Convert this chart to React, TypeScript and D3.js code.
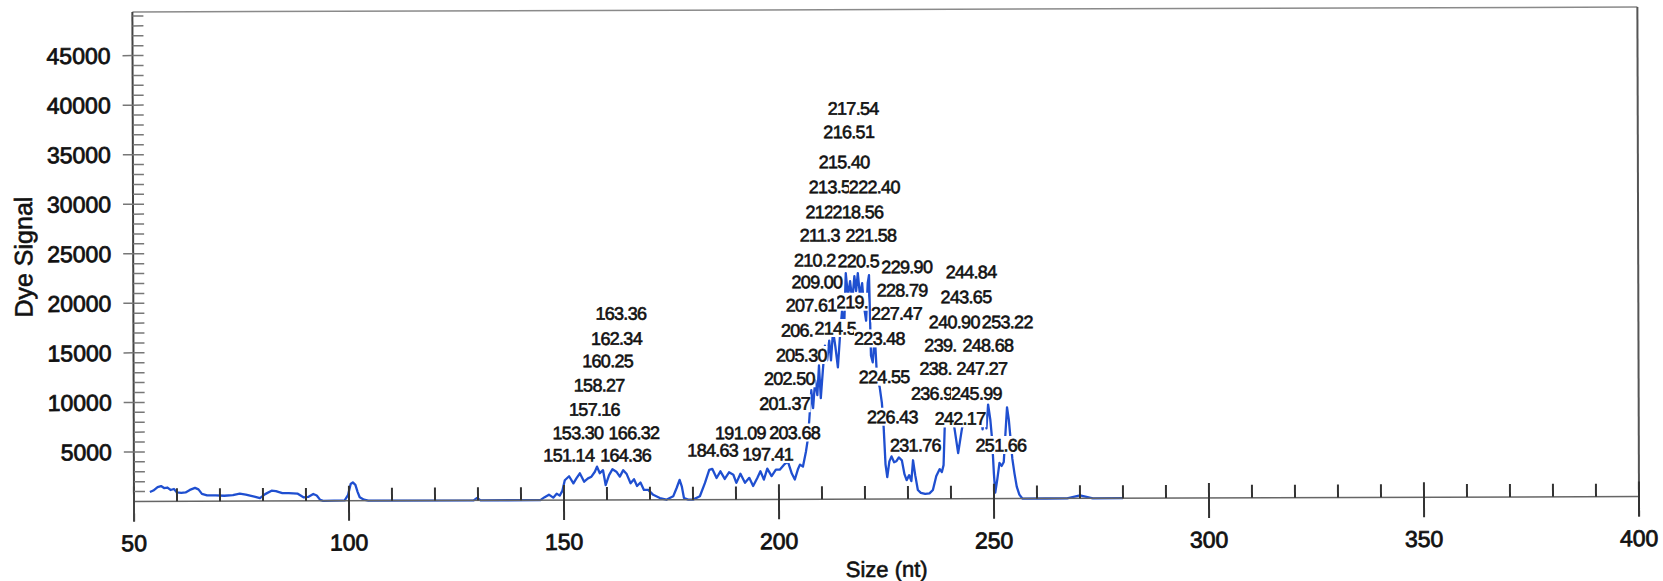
import React, { useEffect, useRef } from "react";
import * as d3 from "d3";

// electropherogram trace: fragment size (nt) and dye signal
const traceSize = [
    53.7, 54.5, 55.5, 56.3, 57.0, 57.8, 58.5, 59.3, 60.0, 61.0, 62.0, 63.0, 64.2, 65.0, 65.8, 67.0, 69.0, 71.0, 73.0, 74.6,
    76.0, 78.0, 79.3, 80.5, 82.0, 83.0, 84.5, 86.0, 88.0, 89.5, 90.5, 91.7, 92.5, 93.3, 94.0, 99.0, 99.8, 100.4, 100.9, 101.5,
    102.0, 102.5, 103.5, 104.5, 129.0, 129.8, 130.6, 144.5, 145.5, 146.5, 147.5, 148.3, 149.0, 149.6, 150.2, 151.2, 152.2, 152.9, 153.7, 154.7,
    155.6, 156.4, 157.2, 157.7, 158.35, 159.1, 159.7, 160.5, 161.3, 162.2, 163.0, 163.8, 164.6, 165.5, 166.3, 167.0, 167.8, 168.6, 169.6, 170.75,
    172.3, 173.8, 175.4, 176.2, 176.9, 177.4, 177.9, 178.9, 180.0, 181.6, 182.8, 183.8, 184.5, 185.5, 186.4, 187.4, 188.4, 189.4, 190.1, 191.05,
    192.1, 193.1, 194.0, 195.0, 195.7, 196.5, 197.3, 198.3, 199.3, 200.2, 201.2, 202.1, 203.0, 203.7, 204.4, 204.9, 205.6, 206.3, 206.8, 207.2,
    207.6, 208.0, 208.5, 209.0, 209.4, 209.8, 210.3, 210.8, 211.3, 211.8, 212.2, 212.7, 213.2, 213.8, 214.3, 214.8, 215.3, 215.7, 216.2, 216.7,
    217.2, 217.7, 218.1, 218.5, 219.0, 219.5, 219.9, 220.4, 220.8, 221.1, 221.5, 221.9, 222.4, 222.9, 223.5, 224.0, 224.4, 224.8, 225.2, 225.7,
    226.2, 226.8, 227.3, 227.9, 228.6, 229.2, 229.7, 230.3, 230.8, 231.2, 231.7, 232.3, 233.0, 234.0, 235.0, 235.8, 236.6, 237.4, 237.9, 238.3,
    238.6, 239.2, 239.8, 240.4, 240.9, 241.7, 242.5, 243.0, 243.6, 244.3, 245.0, 245.8, 246.5, 246.9, 247.4, 247.9, 248.3, 248.7, 249.2, 249.6,
    250.0, 250.3, 250.8, 251.3, 251.8, 252.3, 252.7, 253.1, 253.5, 253.8, 254.3, 254.8, 255.3, 255.9, 256.6, 262.0, 267.0, 268.5, 270.0, 271.5,
    273.0, 280.0,
];
const traceSignal = [
    950, 1100, 1450, 1550, 1350, 1400, 1150, 1250, 900, 850, 900, 1150, 1350, 1200, 750, 600, 600, 550, 600, 750,
    650, 450, 300, 700, 1050, 1000, 800, 800, 750, 350, 400, 700, 550, 100, 0, 50, 600, 1700, 1850, 1600,
    900, 350, 100, 0, 0, 250, 0, 0, 300, 550, 250, 650, 450, 900, 2000, 2400, 1680, 2180, 2700, 1850,
    2180, 2350, 2850, 3360, 2700, 3000, 1500, 2500, 3100, 2850, 2350, 3000, 2600, 1680, 2080, 1400, 1750, 1000, 1000, 500,
    170, 0, 340, 1180, 2000, 1350, 170, 0, 0, 340, 1680, 3000, 3100, 2180, 2850, 2080, 2750, 2500, 1680, 2600,
    1680, 2180, 1350, 2180, 2850, 2000, 3100, 2350, 3000, 3000, 3500, 3800, 2600, 2000, 3000, 3500, 3300, 4800, 6200, 8600,
    11000, 9200, 12000, 10500, 13500, 10200, 13000, 15500, 14000, 16000, 14000, 17000, 15500, 13300, 16400, 19000, 17500, 22800, 20500, 22000,
    20000, 22500, 21000, 22800, 20500, 21800, 19500, 18000, 21800, 22600, 14500, 13800, 16500, 12200, 11300, 9700, 7200, 3500, 2200, 3800,
    4300, 3700, 3800, 4200, 3900, 2500, 1900, 2400, 1800, 3900, 2400, 900, 600, 500, 550, 900, 2300, 3000, 2700, 3400,
    7300, 8000, 7800, 8200, 7000, 4600, 6800, 8000, 8400, 7700, 8300, 7800, 8300, 8800, 7000, 8800, 7100, 9500, 8000, 6000,
    2500, 600, 2000, 3600, 3300, 3700, 6500, 9200, 8000, 6500, 4000, 2500, 1200, 400, 0, 0, 0, 150, 300, 150,
    0, 0,
];

// peak size labels: text, peak position (nt), stacking level (signal)
const peakLabels = [
    "151.14", "153.30", "157.16", "158.27", "160.25", "162.34", "163.36", "164.36", "166.32",
    "184.63", "191.09", "197.41", "201.37", "202.50", "203.68", "205.30", "206.", "207.61", "209.00",
    "210.2", "211.3", "212", "213.5", "214.5", "215.40", "216.51", "217.54", "218.56", "219.", "220.5",
    "221.58", "222.40", "223.48", "224.55", "226.43", "227.47", "228.79", "229.90", "231.76",
    "236.9", "238.", "239.", "240.90", "242.17", "243.65", "244.84", "245.99", "247.27", "248.68", "251.66", "253.22",
];
const peakAt = [
    151.14, 153.30, 157.16, 158.27, 160.25, 162.34, 163.36, 164.36, 166.32,
    184.63, 191.09, 197.41, 201.37, 202.50, 203.68, 205.30, 206.5, 207.61, 209.00,
    209.6, 210.95, 212.3, 213.1, 214.3, 215.40, 216.51, 217.54, 218.56, 219.3, 219.7,
    221.58, 222.40, 223.48, 224.55, 226.43, 227.47, 228.79, 229.90, 231.76,
    236.7, 238.7, 239.85, 240.90, 242.17, 243.65, 244.84, 245.99, 247.27, 248.68, 251.66, 253.22,
];
const peakLevel = [
    4550, 6800, 9150, 11600, 14050, 16300, 18830, 4530, 6780,
    5000, 6740, 4580, 9690, 12210, 6740, 14560, 17070, 19610, 21950,
    24150, 26670, 29020, 31540, 17270, 34050, 37080, 39440, 29000, 19920, 24050,
    26640, 31520, 16220, 12350, 8300, 18740, 21090, 23440, 5440,
    10660, 13180, 15530, 17870, 8120, 20390, 22910, 10640, 13160, 15510, 5410, 17850,
];

const xTicks = [50, 100, 150, 200, 250, 300, 350, 400];
const yTicks = [5000, 10000, 15000, 20000, 25000, 30000, 35000, 40000, 45000];

const App: React.FC = () => {
    const svgRef = useRef<SVGSVGElement | null>(null);

    useEffect(() => {
        const svg = d3.select(svgRef.current);
        svg.selectAll("*").remove();

        const left = 134;
        const right = 1639;
        const top = 12;
        const bottom = 501.5;
        const font = "'Liberation Sans', Arial, sans-serif";

        const x = d3.scaleLinear().domain([50, 400]).range([left, right]);
        const y = d3.scaleLinear().domain([0, 49400]).range([bottom, top]);

        // scan is slightly tilted
        const g = svg.append("g").attr("transform", `rotate(-0.19 ${left} ${bottom})`);

        // frame (top + right)
        g.append("line").attr("x1", left).attr("x2", right).attr("y1", top).attr("y2", top)
            .attr("stroke", "#8a8a8a").attr("stroke-width", 1.5);
        g.append("line").attr("x1", right).attr("x2", right).attr("y1", top).attr("y2", bottom + 20)
            .attr("stroke", "#555").attr("stroke-width", 2);

        // trace
        const pts = traceSize.map((s, i) => [s, traceSignal[i]] as [number, number]);
        const line = d3.line<[number, number]>().x(d => x(d[0])).y(d => y(d[1]));
        g.append("path").attr("d", line(pts) as string)
            .attr("fill", "none").attr("stroke", "#1f4fd0").attr("stroke-width", 2.3)
            .attr("stroke-linejoin", "round");

        // x axis
        g.append("line").attr("x1", left).attr("x2", right).attr("y1", bottom).attr("y2", bottom)
            .attr("stroke", "#666").attr("stroke-width", 1.5);
        const minorX = d3.range(60, 400, 10).filter(v => v % 50 !== 0);
        g.selectAll(".mx").data(minorX).enter().append("line")
            .attr("x1", d => x(d)).attr("x2", d => x(d)).attr("y1", bottom).attr("y2", bottom - 13)
            .attr("stroke", "#333").attr("stroke-width", 2);
        g.selectAll(".Mx").data(xTicks).enter().append("line")
            .attr("x1", d => x(d)).attr("x2", d => x(d)).attr("y1", bottom - 15).attr("y2", bottom + 20)
            .attr("stroke", "#333").attr("stroke-width", 2);
        g.selectAll(".xl").data(xTicks).enter().append("text")
            .attr("x", d => x(d)).attr("y", bottom + 41.5).attr("dy", "0.36em")
            .attr("text-anchor", "middle").attr("font-family", font).attr("font-size", 23)
            .attr("fill", "#111").attr("stroke", "#111").attr("stroke-width", 0.8)
            .text(d => `${d}`);

        // y axis
        g.append("line").attr("x1", left).attr("x2", left).attr("y1", top).attr("y2", bottom + 20)
            .attr("stroke", "#444").attr("stroke-width", 2);
        const minorY = d3.range(1000, 49001, 1000);
        g.selectAll(".my").data(minorY).enter().append("line")
            .attr("x1", left).attr("x2", left + 11).attr("y1", d => y(d)).attr("y2", d => y(d))
            .attr("stroke", "#777").attr("stroke-width", 1.5);
        g.selectAll(".My").data(yTicks).enter().append("line")
            .attr("x1", left - 10).attr("x2", left).attr("y1", d => y(d)).attr("y2", d => y(d))
            .attr("stroke", "#777").attr("stroke-width", 1.5);
        g.selectAll(".yl").data(yTicks).enter().append("text")
            .attr("x", left - 22).attr("y", d => y(d)).attr("dy", "0.36em")
            .attr("text-anchor", "end").attr("font-family", font).attr("font-size", 23)
            .attr("fill", "#111").attr("stroke", "#111").attr("stroke-width", 0.8)
            .text(d => `${d}`);

        // axis titles
        g.append("text").attr("x", (left + right) / 2).attr("y", bottom + 70).attr("dy", "0.36em")
            .attr("text-anchor", "middle").attr("font-family", font).attr("font-size", 22)
            .attr("fill", "#111").attr("stroke", "#111").attr("stroke-width", 0.6)
            .text("Size (nt)");
        g.append("text")
            .attr("transform", `translate(24,${(top + bottom) / 2}) rotate(-90)`)
            .attr("dy", "0.36em").attr("text-anchor", "middle").attr("font-family", font).attr("font-size", 25)
            .attr("fill", "#111").attr("stroke", "#111").attr("stroke-width", 0.6)
            .text("Dye Signal");

        // peak labels on white boxes; truncated ones first so full ones sit on top
        const labels = peakLabels.map((t, i) => ({ t, at: peakAt[i], lv: peakLevel[i], cut: !/^\d+\.\d\d$/.test(t) }));
        const ordered = [...labels.filter(d => d.cut), ...labels.filter(d => !d.cut)];
        ordered.forEach(d => {
            const lg = g.append("g");
            const rect = lg.append("rect").attr("fill", "#fff");
            const txt = lg.append("text")
                .attr("x", d.cut ? x(d.at) - 25.5 : x(d.at))
                .attr("y", y(d.lv)).attr("dy", "0.36em")
                .attr("text-anchor", d.cut ? "start" : "middle")
                .attr("font-family", font).attr("font-size", 18).attr("letter-spacing", -0.7)
                .attr("fill", "#111").attr("stroke", "#111").attr("stroke-width", 0.6)
                .text(d.t);
            const bb = (txt.node() as SVGTextElement).getBBox();
            rect.attr("x", bb.x).attr("width", bb.width).attr("y", y(d.lv) - 9).attr("height", 18);
        });
    }, []);

    return (
        <div style={{ position: "absolute", left: 0, top: 0 }}>
            <svg ref={svgRef} width={1663} height={581} style={{ display: "block", background: "#fff" }} />
        </div>
    );
};

export default App;
